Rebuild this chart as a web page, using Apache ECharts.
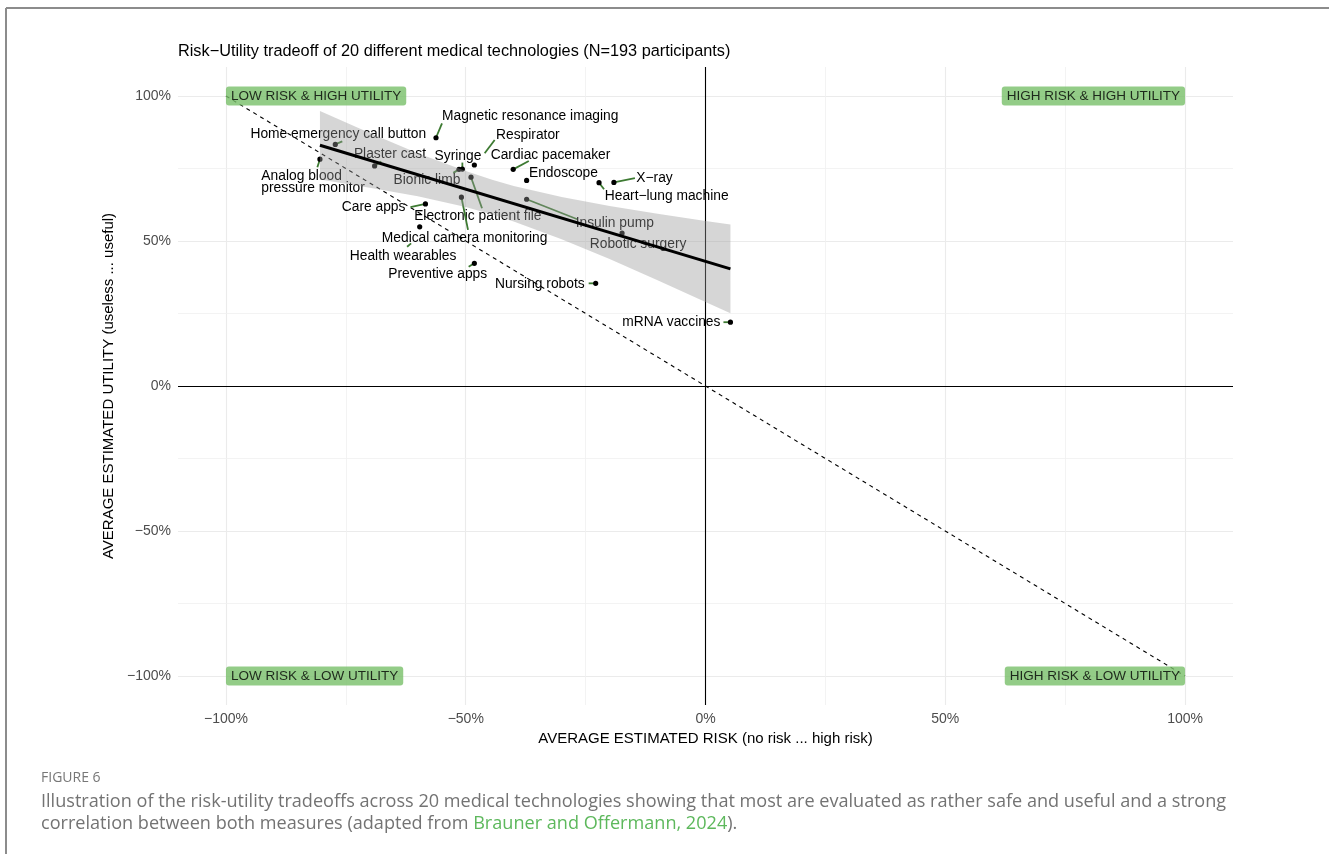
<!DOCTYPE html>
<html><head><meta charset="utf-8">
<script src="https://cdn.jsdelivr.net/npm/echarts@6/dist/echarts.min.js"></script>
<style>html,body{margin:0;padding:0;background:#fff}#chart{width:1329px;height:854px}</style>
</head><body><div id="chart"></div>
<script>
// ---------- DATA ----------
const technologies = [
  'Home emergency call button', 'Analog blood\npressure monitor', 'Plaster cast',
  'Magnetic resonance imaging', 'Bionic limb', 'Syringe', 'Respirator',
  'Electronic patient file', 'Medical camera monitoring', 'Care apps',
  'Health wearables', 'Preventive apps', 'Cardiac pacemaker', 'Endoscope',
  'Insulin pump', 'Heart\u2212lung machine', 'X\u2212ray', 'Robotic surgery',
  'Nursing robots', 'mRNA vaccines'
];
const riskValues = [-77.2, -80.4, -69.0, -56.2, -51.4, -50.7, -48.2, -48.9, -50.9, -58.4,
                    -59.6, -48.2, -40.1, -37.3, -37.3, -22.2, -19.1, -17.4, -22.9, 5.2];
const utilityValues = [83.3, 78.2, 75.9, 85.6, 74.7, 74.8, 76.2, 72.0, 65.1, 62.8,
                       54.9, 42.3, 74.7, 70.9, 64.4, 70.1, 70.2, 52.7, 35.4, 22.0];
const axisTickValues = [-100, -50, 0, 50, 100];
const minorGridValues = [-75, -25, 25, 75];
const fitRisk = [-80.4, 5.2];
const fitUtility = [83.0, 40.4];
const bandRisk  = [-80.4, -70, -60, -50, -44.5, -40, -30, -20, -10, 0, 5.2];
const bandLower = [71.2, 68.4, 65.4, 61.7, 59.1, 56.7, 50.6, 43.8, 36.5, 29.0, 25.1];
const bandUpper = [94.8, 87.2, 80.3, 74.1, 71.1, 69.0, 65.2, 62.1, 59.4, 56.9, 55.7];
const diagonalRisk = [-100, 100];
const diagonalUtility = [100, -100];
const quadrantNames = ['LOW RISK & HIGH UTILITY', 'HIGH RISK & HIGH UTILITY', 'LOW RISK & LOW UTILITY', 'HIGH RISK & LOW UTILITY'];
const quadrantRisk = [-100, 100, -100, 100];
const quadrantUtility = [100, 100, -100, -100];

// ---------- LAYOUT / STYLE (label placement in pixels) ----------
const labelLayout = [
  {align:'center', dx:3,     dy:-10.2, lead:[0,0,7,-3]},
  {align:'left',   dx:-58.6, dy:23.2,  lead:[0,0,-2.6,8]},
  {align:'left',   dx:-20.7, dy:-12,   lead:[0,0,6.7,-4.3]},
  {align:'left',   dx:6,     dy:-21.2, lead:[0,0,6,-14.4]},
  {align:'right',  dx:1.3,   dy:11,    lead:[0,0,-5.7,3.5]},
  {align:'center', dx:-4.4,  dy:-13.2, lead:[0,0,0,-6.5]},
  {align:'left',   dx:21.7,  dy:-29.5, lead:[10.3,-11.7,20.3,-25]},
  {align:'center', dx:6.8,   dy:38.9,  lead:[0,0,11,31]},
  {align:'center', dx:3.2,   dy:40.5,  lead:[0,0,6.6,32.7]},
  {align:'right',  dx:-20,   dy:3.8,   lead:[0,0,-15,3.3]},
  {align:'center', dx:-16.6, dy:29.5,  lead:[-8.6,16.6,-12.6,20]},
  {align:'center', dx:-36.7, dy:10.5,  lead:[0,0,-5.7,3.4]},
  {align:'center', dx:37.3,  dy:-14.5, lead:[0,0,15.6,-8.3]},
  {align:'left',   dx:2.3,   dy:-7.1,  lead:null},
  {align:'left',   dx:49,    dy:23.5,  lead:[0,0,50.7,20]},
  {align:'left',   dx:5.7,   dy:13.8,  lead:[0,0,5,6.6]},
  {align:'left',   dx:22.4,  dy:-4.1,  lead:[0,0,21,-4.3]},
  {align:'center', dx:16,    dy:11.5,  lead:null},
  {align:'right',  dx:-11,   dy:0.5,   lead:[0,0,-7,0]},
  {align:'right',  dx:-10,   dy:0,     lead:[0,0,-7,0]}
];
const FONT = '"Liberation Sans", Arial, Helvetica, sans-serif';
const CAPFONT = '"Open Sans", sans-serif';
const pct = v => (v < 0 ? '\u2212' : '') + Math.abs(v) + '%';

const chart = echarts.init(document.getElementById('chart'), null, {renderer: 'canvas'});

const pointData = technologies.map((n, i) => [riskValues[i], utilityValues[i]]);
const bandData = bandRisk.map((x, i) => [x, bandLower[i], bandUpper[i]]);

function renderPoint(params, api) {
  const i = params.dataIndex;
  const p = api.coord([api.value(0), api.value(1)]);
  const L = labelLayout[i];
  const children = [];
  if (L.lead) {
    children.push({type:'line', shape:{x1:p[0]+L.lead[0], y1:p[1]+L.lead[1], x2:p[0]+L.lead[2], y2:p[1]+L.lead[3]},
      style:{stroke:'#3d7a32', lineWidth:1.8}});
  }
  children.push({type:'circle', shape:{cx:p[0], cy:p[1], r:2.6}, style:{fill:'#000'}});
  children.push({type:'text', x:p[0]+L.dx, y:p[1]+L.dy,
    style:{text: technologies[i], fill:'#000', font:'13.8px ' + FONT,
      align:L.align, verticalAlign:'middle', textAlign:L.align, textVerticalAlign:'middle', lineHeight:12.5}});
  return {type:'group', children};
}

function renderBand(params, api) {
  if (params.dataIndex !== 0) return null;
  const pts = [];
  for (let i = 0; i < bandRisk.length; i++) pts.push(api.coord([bandRisk[i], bandUpper[i]]));
  for (let i = bandRisk.length - 1; i >= 0; i--) pts.push(api.coord([bandRisk[i], bandLower[i]]));
  return {type:'polygon', shape:{points: pts}, style:{fill:'rgba(153,153,153,0.4)'}};
}

const gridLineData = [];
axisTickValues.forEach(v => {
  gridLineData.push({xAxis: v, lineStyle:{color:'#EBEBEB', width:1.1, type:'solid'}});
  gridLineData.push({yAxis: v, lineStyle:{color:'#EBEBEB', width:1.1, type:'solid'}});
});
minorGridValues.forEach(v => {
  gridLineData.push({xAxis: v, lineStyle:{color:'#F0F0F0', width:0.8, type:'solid'}});
  gridLineData.push({yAxis: v, lineStyle:{color:'#F0F0F0', width:0.8, type:'solid'}});
});

const option = {
  animation: false,
  backgroundColor: '#fff',
  title: {
    text: 'Risk\u2212Utility tradeoff of 20 different medical technologies (N=193 participants)',
    left: 178, top: 44, padding: 0,
    textStyle: {fontSize: 16.3, fontWeight: 'normal', color: '#000', fontFamily: FONT}
  },
  grid: {left: 178, right: 96, top: 67, bottom: 149, containLabel: false},
  xAxis: {
    type: 'value', min: -110, max: 110, interval: 10,
    axisLine: {show: false, onZero: false}, axisTick: {show: false}, splitLine: {show: false},
    axisLabel: {formatter: v => (axisTickValues.indexOf(v) >= 0 ? pct(v) : ''), color: '#4D4D4D', fontSize: 14, fontFamily: FONT, margin: 7},
    name: 'AVERAGE ESTIMATED RISK (no risk ... high risk)', nameLocation: 'middle', nameGap: 18,
    nameTextStyle: {color: '#000', fontSize: 15, fontFamily: FONT}
  },
  yAxis: {
    type: 'value', min: -110, max: 110, interval: 10,
    axisLine: {show: false, onZero: false}, axisTick: {show: false}, splitLine: {show: false},
    axisLabel: {formatter: v => (axisTickValues.indexOf(v) >= 0 ? pct(v) : ''), color: '#4D4D4D', fontSize: 14, fontFamily: FONT, margin: 7},
    name: 'AVERAGE ESTIMATED UTILITY (useless ... useful)', nameLocation: 'middle', nameGap: 52,
    nameTextStyle: {color: '#000', fontSize: 15, fontFamily: FONT}
  },
  series: [
    { // grid lines
      type: 'line', data: [], z: 1, silent: true,
      markLine: {silent: true, symbol: 'none', z: 1, label: {show: false}, animation: false, data: gridLineData}
    },
    { // zero lines
      type: 'line', data: [], z: 1, silent: true,
      markLine: {silent: true, symbol: 'none', z: 1.5, label: {show: false}, animation: false,
        lineStyle: {color: '#000', width: 1.1, type: 'solid'},
        data: [{xAxis: 0}, {yAxis: 0}]}
    },
    { // diagonal
      type: 'line', z: 2, silent: true, showSymbol: false, symbol: 'none',
      data: diagonalRisk.map((x, i) => [x, diagonalUtility[i]]),
      lineStyle: {color: '#000', width: 1.1, type: [4, 4]}
    },
    { // points + labels
      type: 'custom', z: 3, silent: true, renderItem: renderPoint,
      encode: {x: 0, y: 1}, data: pointData, clip: false
    },
    { // confidence band
      type: 'custom', z: 4, silent: true, renderItem: renderBand,
      encode: {x: 0, y: [1, 2]}, data: bandData
    },
    { // regression line
      type: 'line', z: 5, silent: true, showSymbol: false, symbol: 'none',
      data: fitRisk.map((x, i) => [x, fitUtility[i]]),
      lineStyle: {color: '#000', width: 3}
    },
    { // quadrant labels
      type: 'scatter', z: 6, silent: true, symbolSize: 0,
      data: quadrantNames.map((n, i) => ({
        name: n, value: [quadrantRisk[i], quadrantUtility[i]],
        label: {position: quadrantRisk[i] < 0 ? 'right' : 'left'}
      })),
      label: {
        show: true, distance: 0, formatter: p => p.name, color: '#000', fontSize: 13.5, fontFamily: FONT,
        backgroundColor: '#78BF69', padding: [3, 5, 2, 5], borderRadius: 3, lineHeight: 14
      }
    }
  ],
  graphic: [
    {type: 'line', shape: {x1: 6, y1: 8, x2: 1329, y2: 8}, style: {stroke: '#8c8c8c', lineWidth: 2}, silent: true},
    {type: 'line', shape: {x1: 6, y1: 8, x2: 6, y2: 854}, style: {stroke: '#8c8c8c', lineWidth: 2}, silent: true},
    {type: 'text', left: 41, top: 771, silent: true,
      style: {text: 'FIGURE 6', fill: '#777', font: '14px ' + CAPFONT}},
    {type: 'text', left: 41, top: 793, silent: true,
      style: {text: 'Illustration of the risk-utility tradeoffs across 20 medical technologies showing that most are evaluated as rather safe and useful and a strong',
        fill: '#737373', font: '18.1px ' + CAPFONT}},
    {type: 'text', left: 41, top: 815, silent: true,
      style: {text: 'correlation between both measures (adapted from {g|Brauner and Offermann, 2024}).',
        fill: '#737373', font: '18.1px ' + CAPFONT,
        rich: {g: {fill: '#5DB85C', font: '18.1px ' + CAPFONT}}}}
  ]
};
chart.setOption(option);
</script>
</body></html>
